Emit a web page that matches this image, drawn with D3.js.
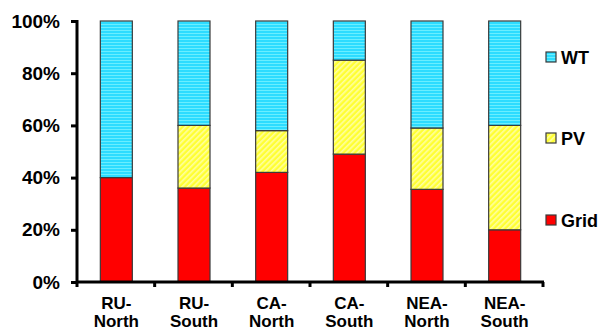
<!DOCTYPE html>
<html><head><meta charset="utf-8">
<script src="https://cdn.jsdelivr.net/npm/d3@7"></script>
<style>body{margin:0;background:#fff}svg{display:block}text{font-family:Arial,"Liberation Sans",sans-serif;font-weight:bold;fill:#000}</style>
</head><body>
<svg id="c" width="604" height="329"></svg>
<script>
const categories = [["RU-","North"],["RU-","South"],["CA-","North"],["CA-","South"],["NEA-","North"],["NEA-","South"]];
const seriesNames = ["Grid","PV","WT"];
const grid = [40, 36, 42, 49, 35.5, 20];
const pv   = [0, 24, 16, 36, 23.5, 40];
const wt   = [60, 40, 42, 15, 41, 40];
const yTicks = [0, 20, 40, 60, 80, 100];

const svg = d3.select("#c");
const defs = svg.append("defs");
const pw = defs.append("pattern").attr("id","pWT").attr("patternUnits","userSpaceOnUse").attr("width",4).attr("height",3);
pw.append("rect").attr("width",4).attr("height",3).attr("fill","#2ddcff");
pw.append("rect").attr("width",4).attr("height",1).attr("fill","#6aeeff");
const pp = defs.append("pattern").attr("id","pPV").attr("patternUnits","userSpaceOnUse").attr("width",4).attr("height",4).attr("patternTransform","rotate(45)");
pp.append("rect").attr("width",4).attr("height",4).attr("fill","#ffff33");
pp.append("rect").attr("width",1.6).attr("height",4).attr("fill","#ffffa0");
const fills = {Grid:"#ff0000", PV:"url(#pPV)", WT:"url(#pWT)"};

const x = d3.scaleBand().domain(d3.range(categories.length)).range([77, 543]);
const y = d3.scaleLinear().domain([0, 100]).range([282, 21]);
const barW = 32;

const data = categories.map((c,i)=>({i, Grid:grid[i], PV:pv[i], WT:wt[i]}));
const stack = d3.stack().keys(seriesNames)(data);

stack.forEach(layer=>{
  svg.append("g").selectAll("rect").data(layer.filter(d=>d[1]-d[0]>0)).join("rect")
    .attr("x", d=>x(d.data.i)+x.bandwidth()/2-barW/2+0.5)
    .attr("y", d=>y(d[1]))
    .attr("width", barW)
    .attr("height", d=>y(d[0])-y(d[1]))
    .attr("fill", fills[layer.key])
    .attr("stroke","#3a3a3a").attr("stroke-width",1.2);
});

// y axis
const ya = svg.append("g").attr("transform","translate(77,0)")
  .call(d3.axisLeft(y).tickValues(yTicks).tickFormat(d=>d+"%").tickSize(6).tickPadding(11));
ya.select(".domain").attr("stroke","#000").attr("stroke-width",3).attr("d","M0,20V283");
ya.selectAll(".tick line").attr("stroke","#000").attr("stroke-width",3);
ya.selectAll(".tick text").attr("font-size",19).attr("font-family","Arial, 'Liberation Sans', sans-serif").attr("font-weight","bold").attr("fill","#000");

// x axis
const boundaries = d3.range(categories.length+1).map(i=> i<categories.length ? x(i) : x(i-1)+x.bandwidth());
const xa = svg.append("g");
xa.append("line").attr("x1",76).attr("x2",544).attr("y1",282).attr("y2",282).attr("stroke","#000").attr("stroke-width",3);
xa.selectAll("line.t").data(boundaries).join("line").attr("class","t")
  .attr("x1",d=>d).attr("x2",d=>d).attr("y1",282).attr("y2",287).attr("stroke","#000").attr("stroke-width",3);
const lbl = xa.selectAll("text").data(categories).join("text")
  .attr("text-anchor","middle").attr("font-size",17)
  .attr("x",(d,i)=>x(i)+x.bandwidth()/2+0.5).attr("y",309);
lbl.selectAll("tspan").data(d=>d).join("tspan")
  .attr("x",function(){return this.parentNode.getAttribute("x");})
  .attr("dy",(d,j)=>j===0?0:17.5).text(d=>d);

// legend
const legendItems = ["WT","PV","Grid"];
const legendY = [57, 138, 220];
const lg = svg.append("g");
legendItems.forEach((k,i)=>{
  lg.append("rect").attr("x",546).attr("y",legendY[i]-5).attr("width",10).attr("height",10)
    .attr("fill",fills[k]).attr("stroke","#3a3a3a").attr("stroke-width",1.2);
  lg.append("text").attr("x",561).attr("y",legendY[i]+6.5).attr("font-size",18).text(k);
});
</script>
</body></html>
